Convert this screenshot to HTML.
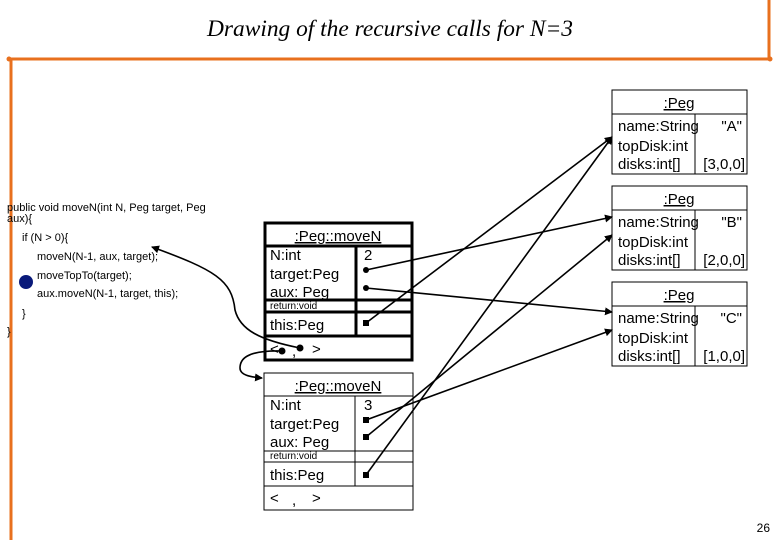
<!DOCTYPE html>
<html><head><meta charset="utf-8"><style>
html,body{margin:0;padding:0;background:#fff;width:780px;height:540px;overflow:hidden}
svg{display:block}
text{font-family:"Liberation Sans",sans-serif;fill:#000}
</style></head><body>
<svg width="780" height="540" viewBox="0 0 780 540" xmlns="http://www.w3.org/2000/svg">
<defs><marker id="ah" markerWidth="8" markerHeight="8" refX="7" refY="4" orient="auto" markerUnits="userSpaceOnUse"><path d="M0,0 L8,4 L0,8 z" fill="#000"/></marker></defs>
<g stroke="#e8701e" stroke-width="3" fill="none">
<path d="M9,59 H770 M769,0 V59 M11,59 V540"/>
</g>
<circle cx="9" cy="59" r="2.5" fill="#e8701e"/><circle cx="770" cy="59" r="2.5" fill="#e8701e"/>
<text x="390" y="36" text-anchor="middle" font-size="23" style="font-family:'Liberation Serif',serif;font-style:italic" textLength="366" lengthAdjust="spacingAndGlyphs">Drawing of the recursive calls for N=3</text>

<g font-size="11">
<text x="7" y="211">public void moveN(int N, Peg target, Peg</text>
<text x="7" y="222">aux){</text>
<text x="22" y="241">if (N &gt; 0){</text>
<text x="37" y="260">moveN(N-1, aux, target);</text>
<text x="37" y="279">moveTopTo(target);</text>
<text x="37" y="297">aux.moveN(N-1, target, this);</text>
<text x="22" y="317">}</text>
<text x="7" y="335">}</text>
</g>
<circle cx="26" cy="282" r="7" fill="#0a1a7a"/>

<g fill="none" stroke="#000" stroke-width="1">
<rect x="612" y="90" width="135" height="84"/><path d="M612,114 H747 M695,114 V174"/>
<rect x="612" y="186" width="135" height="84"/><path d="M612,210 H747 M695,210 V270"/>
<rect x="612" y="282" width="135" height="84"/><path d="M612,306 H747 M695,306 V366"/>
</g>
<g font-size="15">
<text x="679" y="108" text-anchor="middle" text-decoration="underline">:Peg</text>
<text x="618" y="131">name:String</text><text x="742" y="131" text-anchor="end">"A"</text>
<text x="618" y="151">topDisk:int</text>
<text x="618" y="169">disks:int[]</text><text x="745" y="169" text-anchor="end">[3,0,0]</text>
<text x="679" y="204" text-anchor="middle" text-decoration="underline">:Peg</text>
<text x="618" y="227">name:String</text><text x="742" y="227" text-anchor="end">"B"</text>
<text x="618" y="247">topDisk:int</text>
<text x="618" y="265">disks:int[]</text><text x="745" y="265" text-anchor="end">[2,0,0]</text>
<text x="679" y="300" text-anchor="middle" text-decoration="underline">:Peg</text>
<text x="618" y="323">name:String</text><text x="742" y="323" text-anchor="end">"C"</text>
<text x="618" y="343">topDisk:int</text>
<text x="618" y="361">disks:int[]</text><text x="745" y="361" text-anchor="end">[1,0,0]</text>
</g>

<g fill="none" stroke="#000" stroke-width="3">
<rect x="265" y="223" width="147" height="137"/>
<path d="M265,246 H412 M356,246 V336 M265,300 H412 M265,312 H412 M265,336 H412"/>
</g>
<g font-size="15">
<text x="338" y="241" text-anchor="middle" text-decoration="underline">:Peg::moveN</text>
<text x="270" y="260">N:int</text><text x="364" y="260">2</text>
<text x="270" y="279">target:Peg</text>
<text x="270" y="297">aux: Peg</text>
<text x="270" y="309" font-size="10">return:void</text>
<text x="270" y="330">this:Peg</text>
<text x="270" y="354">&lt;</text><text x="292" y="356">,</text><text x="312" y="354">&gt;</text>
</g>
<g fill="none" stroke="#000" stroke-width="1">
<rect x="264" y="373" width="149" height="137"/>
<path d="M264,396 H413 M355,396 V486 M264,451 H413 M264,462 H413 M264,486 H413"/>
</g>
<g font-size="15">
<text x="338" y="391" text-anchor="middle" text-decoration="underline">:Peg::moveN</text>
<text x="270" y="410">N:int</text><text x="364" y="410">3</text>
<text x="270" y="429">target:Peg</text>
<text x="270" y="447">aux: Peg</text>
<text x="270" y="459" font-size="10">return:void</text>
<text x="270" y="480">this:Peg</text>
<text x="270" y="503">&lt;</text><text x="292" y="505">,</text><text x="312" y="503">&gt;</text>
</g>

<g stroke="#000" stroke-width="1.6" fill="none">
<path d="M366,270 L612,217" marker-end="url(#ah)"/>
<path d="M366,288 L612,312" marker-end="url(#ah)"/>
<path d="M366,323 L612,137" marker-end="url(#ah)"/>
<path d="M366,420 L612,330" marker-end="url(#ah)"/>
<path d="M366,437 L612,235" marker-end="url(#ah)"/>
<path d="M366,475 L612,137" marker-end="url(#ah)"/>
<path d="M300,348 C260,340 240,330 235,310 C232,280 215,270 152,247" marker-end="url(#ah)"/>
<path d="M282,351 C245,350 240,360 240,368 C240,375 250,377 262,378" marker-end="url(#ah)"/>
</g>
<g fill="#000">
<circle cx="366" cy="270" r="3"/><circle cx="366" cy="288" r="3"/><rect x="363" y="320" width="6" height="6"/>
<rect x="363" y="417" width="6" height="6"/><rect x="363" y="434" width="6" height="6"/><rect x="363" y="472" width="6" height="6"/>
<circle cx="300" cy="348" r="3.5"/><circle cx="282" cy="351" r="3.5"/>
</g>
<text x="770" y="532" font-size="12" text-anchor="end">26</text>
</svg>
</body></html>
